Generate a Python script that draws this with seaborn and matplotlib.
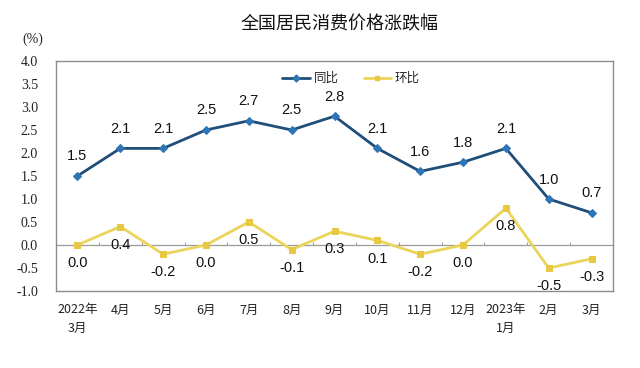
import matplotlib
matplotlib.use("Agg")
import matplotlib.pyplot as plt
import seaborn as sns
import pandas as pd
from matplotlib.lines import Line2D

months = ["2022年\n3月", "4月", "5月", "6月", "7月", "8月", "9月", "10月",
          "11月", "12月", "2023年\n1月", "2月", "3月"]
yoy = [1.5, 2.1, 2.1, 2.5, 2.7, 2.5, 2.8, 2.1, 1.6, 1.8, 2.1, 1.0, 0.7]
mom = [0.0, 0.4, -0.2, 0.0, 0.5, -0.1, 0.3, 0.1, -0.2, 0.0, 0.8, -0.5, -0.3]
yticks = [-1.0, -0.5, 0.0, 0.5, 1.0, 1.5, 2.0, 2.5, 3.0, 3.5, 4.0]

sns.set_theme(style="white")
plt.rcParams["font.family"] = ["Noto Sans CJK SC", "DejaVu Sans"]

df = pd.DataFrame({"x": list(range(len(months))), "同比": yoy, "环比": mom})

fig = plt.figure(figsize=(6.4, 3.68), dpi=100)
ax = fig.add_axes([56/640, 1-291/368, 557/640, 230/368])

c_yoy = "#1F4E79"
c_yoy_m = "#2E75B6"
c_mom = "#EAD55A"

sns.lineplot(data=df, x="x", y="同比", ax=ax, color=c_yoy, lw=2.0,
             marker="D", markersize=4, markerfacecolor=c_yoy_m,
             markeredgecolor=c_yoy_m)
sns.lineplot(data=df, x="x", y="环比", ax=ax, color=c_mom, lw=2.0,
             marker="s", markersize=4, markerfacecolor="#E8C840",
             markeredgecolor="#E8C840")

ax.axhline(0, color="#9a9a9a", lw=0.9, zorder=0)
ax.set_xlim(-0.5, len(months) - 0.5)
ax.set_ylim(-1.0, 4.0)
ax.set_yticks(yticks)
ax.set_yticklabels([f"{v:.1f}" for v in yticks], family="Liberation Serif",
                   fontsize=10, color="#222222")
ax.set_xticks(range(len(months)))
ax.set_xticklabels(months, fontsize=9,
                   family=["Noto Sans CJK SC", "DejaVu Sans"], color="#222222",
                   linespacing=1.55, va="top")
ax.tick_params(axis="x", length=0, pad=9)
ax.tick_params(axis="y", length=0, pad=13)
ax.set_xlabel("")
ax.set_ylabel("")
for s in ax.spines.values():
    s.set_color("#8c8c8c")
    s.set_linewidth(1.0)

# tick marks along the zero line at category boundaries
sec = ax.secondary_xaxis(0.2)
sec.set_xticks([i + 0.5 for i in range(len(months) - 1)])
sec.set_xticklabels([])
sec.tick_params(direction="in", length=2.5, width=0.8, color="#a0a0a0")
sec.spines["bottom"].set_visible(False)

for i, v in enumerate(yoy):
    ax.annotate(f"{v:.1f}", (i, v), xytext=(0, 9), textcoords="offset points",
                ha="center", va="bottom", fontsize=10.5, color="#111111",
                family="Liberation Sans")
for i, v in enumerate(mom):
    ax.annotate(f"{v:.1f}", (i, v), xytext=(0, -8), textcoords="offset points",
                ha="center", va="top", fontsize=10.5, color="#111111",
                family="Liberation Sans")

handles = [Line2D([], [], color=c_yoy, lw=2, marker="D", markersize=3.5,
                  markerfacecolor=c_yoy_m, markeredgecolor=c_yoy_m),
           Line2D([], [], color=c_mom, lw=2, marker="s", markersize=3.5,
                  markerfacecolor="#E8C840", markeredgecolor="#E8C840")]
ax.legend(handles, ["同比", "环比"], loc="upper center",
          bbox_to_anchor=(0.53, 1.0), ncol=2, frameon=False, fontsize=9,
          handlelength=2.2, handletextpad=0.3, columnspacing=2.0)

fig.text(340/640, 1-24/368, "全国居民消费价格涨跌幅", ha="center", va="center",
         fontsize=13, color="#111111")
fig.text(33/640, 1-39/368, "(%)", ha="center", va="center", fontsize=10,
         family="Liberation Serif", color="#222222")

fig.savefig("out.png", dpi=100, facecolor="white")
